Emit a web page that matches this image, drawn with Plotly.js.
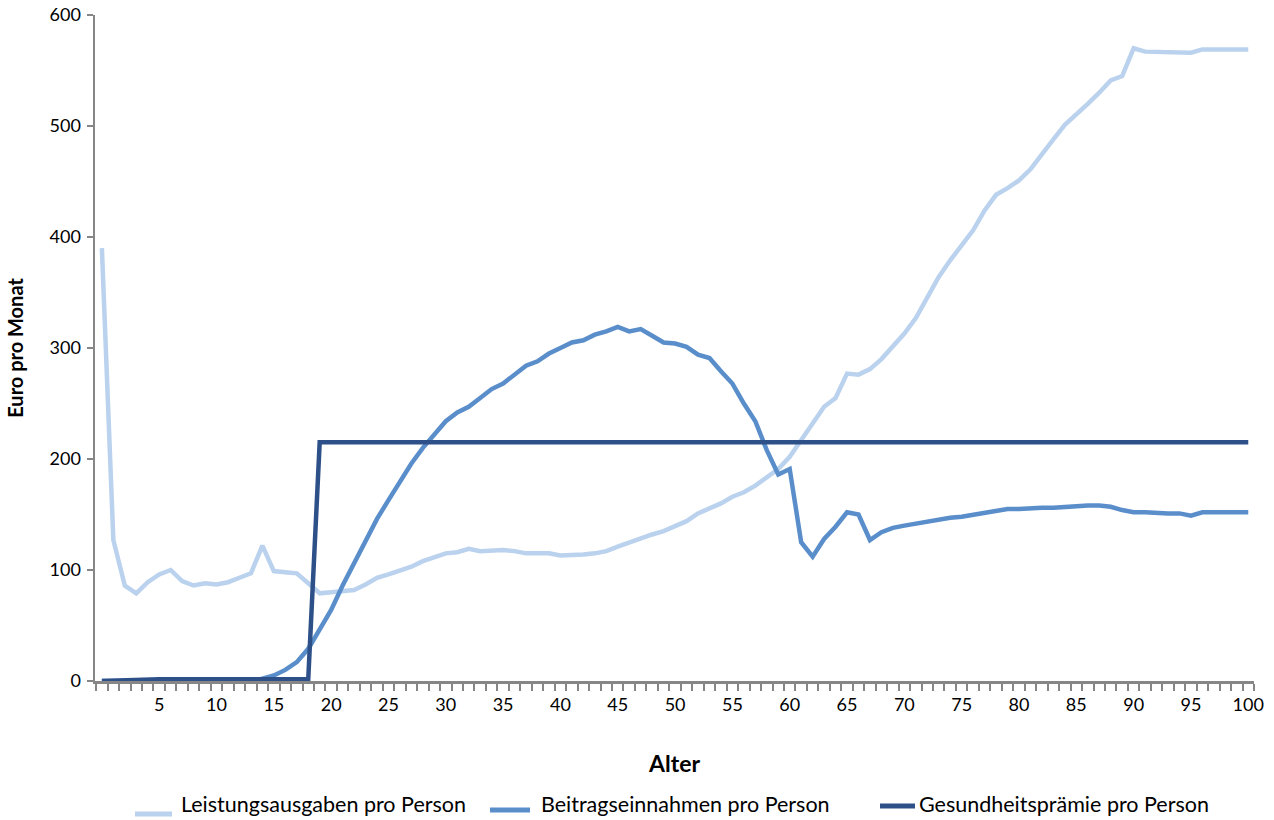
<!DOCTYPE html>
<html>
<head>
<meta charset="utf-8">
<script src="https://cdn.plot.ly/plotly-3.0.1.min.js"></script>
<style>
html,body{margin:0;padding:0;background:#fff;}
#chart{width:1274px;height:820px;}
</style>
</head>
<body>
<div id="chart"></div>
<script>
// Alter 0..100
var alter = [0,1,2,3,4,5,6,7,8,9,10,11,12,13,14,15,16,17,18,19,20,21,22,23,24,25,26,27,28,29,30,31,32,33,34,35,36,37,38,39,40,41,42,43,44,45,46,47,48,49,50,51,52,53,54,55,56,57,58,59,60,61,62,63,64,65,66,67,68,69,70,71,72,73,74,75,76,77,78,79,80,81,82,83,84,85,86,87,88,89,90,91,92,93,94,95,96,97,98,99,100];

var leistungsausgaben = [390,127,86,79,89,96,100,90,86,88,87,89,93,97,122,99,98,97,88,79,
  80,81,82,87,93,96,99,103,108,112,115,116,119,117,118,118,117,115,115,115,
  113,113,114,115,117,121,125,128,132,135,139,144,151,155,160,166,170,176,183,191,
  202,217,232,247,255,277,276,281,290,302,313,327,345,364,379,393,406,424,438,444,
  451,461,475,488,501,510,520,530,541,545,570,567,567,567,566,566,569,569,569,569,569];

var beitragseinnahmen = [0,0,0,0,0,0,0,0,0,0,0,0,0,0,2,5,10,17,29,46,
  64,86,106,124,146,163,180,196,210,222,234,242,247,255,263,268,276,284,288,295,
  300,305,307,312,315,319,315,317,311,305,304,301,294,291,279,268,250,234,208,186,
  191,125,112,128,139,152,150,127,134,138,140,142,143,145,147,148,150,151,153,155,
  155,156,156,156,157,157,158,158,157,154,152,152,151,151,151,149,152,152,152,152,152];

var gesundheitspraemie = [0,0.5,1,1,1.5,1.5,1.5,1.5,1.5,1.5,1.5,1.5,1.5,1.5,1.5,1.5,1.5,1.5,1.5,215,
  215,215,215,215,215,215,215,215,215,215,215,215,215,215,215,215,215,215,215,215,
  215,215,215,215,215,215,215,215,215,215,215,215,215,215,215,215,215,215,215,215,
  215,215,215,215,215,215,215,215,215,215,215,215,215,215,215,215,215,215,215,215,
  215,215,215,215,215,215,215,215,215,215,215,215,215,215,215,215,215,215,215,215,215];

var xTickVals = [5,10,15,20,25,30,35,40,45,50,55,60,65,70,75,80,85,90,95,100];
var xTickText = ["5","10","15","20","25","30","35","40","45","50","55","60","65","70","75","80","85","90","95","100"];
var yTickVals = [0,100,200,300,400,500,600];

var seriesNames = ["Leistungsausgaben pro Person","Beitragseinnahmen pro Person","Gesundheitsprämie pro Person"];
var seriesColors = ["#BAD2EE","#5A8ECB","#2E5088"];

var FONT = "Lato, 'Open Sans', sans-serif";

var W = 1274, H = 820, ML = 95, MR = 20, MT = 15, MB = 139;
var PW = W - ML - MR, PH = H - MT - MB;
function px2paperX(px){ return (px - ML) / PW; }
function px2paperY(py){ return (H - MB - py) / PH; }

var traces = [];
for (var i = 0; i < 3; i++) {
  traces.push({x: alter, y: [leistungsausgaben, beitragseinnahmen, gesundheitspraemie][i],
    name: seriesNames[i], type: 'scatter', mode: 'lines',
    line: {color: seriesColors[i], width: 4.5}, showlegend: false});
}

// manual legend (Excel style, at the very bottom)
var legendSym = [[135,172,814],[490,530,810],[880,915,806]];
var legendTextX = [180, 540, 918];
var shapes = [], annotations = [];
for (var k = 0; k < 3; k++) {
  shapes.push({type: 'line', xref: 'paper', yref: 'paper',
    x0: px2paperX(legendSym[k][0]), x1: px2paperX(legendSym[k][1]),
    y0: px2paperY(legendSym[k][2]), y1: px2paperY(legendSym[k][2]),
    line: {color: seriesColors[k], width: 5}});
  annotations.push({xref: 'paper', yref: 'paper', x: px2paperX(legendTextX[k]), y: px2paperY(804),
    xanchor: 'left', yanchor: 'middle', showarrow: false, text: seriesNames[k], borderpad: 0,
    font: {family: FONT, size: 21.5, color: '#000'}});
}

var layout = {
  width: W, height: H,
  margin: {l: ML, r: MR, t: MT, b: MB},
  paper_bgcolor: '#ffffff', plot_bgcolor: '#ffffff',
  font: {family: FONT, size: 18, color: '#000'},
  showlegend: false,
  shapes: shapes,
  annotations: annotations,
  xaxis: {
    range: [-0.6, 100.5],
    tickmode: 'array', tickvals: xTickVals, ticktext: xTickText,
    ticks: 'outside', ticklen: 4, tickcolor: 'rgba(0,0,0,0)',
    ticklabelstandoff: 2,
    minor: {tick0: 0.5, dtick: 1, ticks: 'outside', ticklen: 7, tickwidth: 2, tickcolor: '#868686', showgrid: false},
    showline: true, linecolor: '#868686', linewidth: 2.5,
    showgrid: false, zeroline: false,
    tickfont: {family: FONT, size: 18, color: '#000'},
    title: {text: 'Alter', font: {family: FONT, size: 23, color: '#000', weight: 'bold'}, standoff: 42}
  },
  yaxis: {
    range: [0, 600],
    tickmode: 'array', tickvals: yTickVals,
    ticks: 'outside', ticklen: 6, tickwidth: 2, tickcolor: '#868686',
    ticklabelstandoff: 2,
    showline: true, linecolor: '#868686', linewidth: 2.5,
    showgrid: false, zeroline: false,
    tickfont: {family: FONT, size: 18, color: '#000'},
    title: {text: 'Euro pro Monat', font: {family: FONT, size: 20, color: '#000', weight: 'bold'}, standoff: 21}
  }
};

Plotly.newPlot('chart', traces, layout, {displayModeBar: false, staticPlot: true});
</script>
</body>
</html>
